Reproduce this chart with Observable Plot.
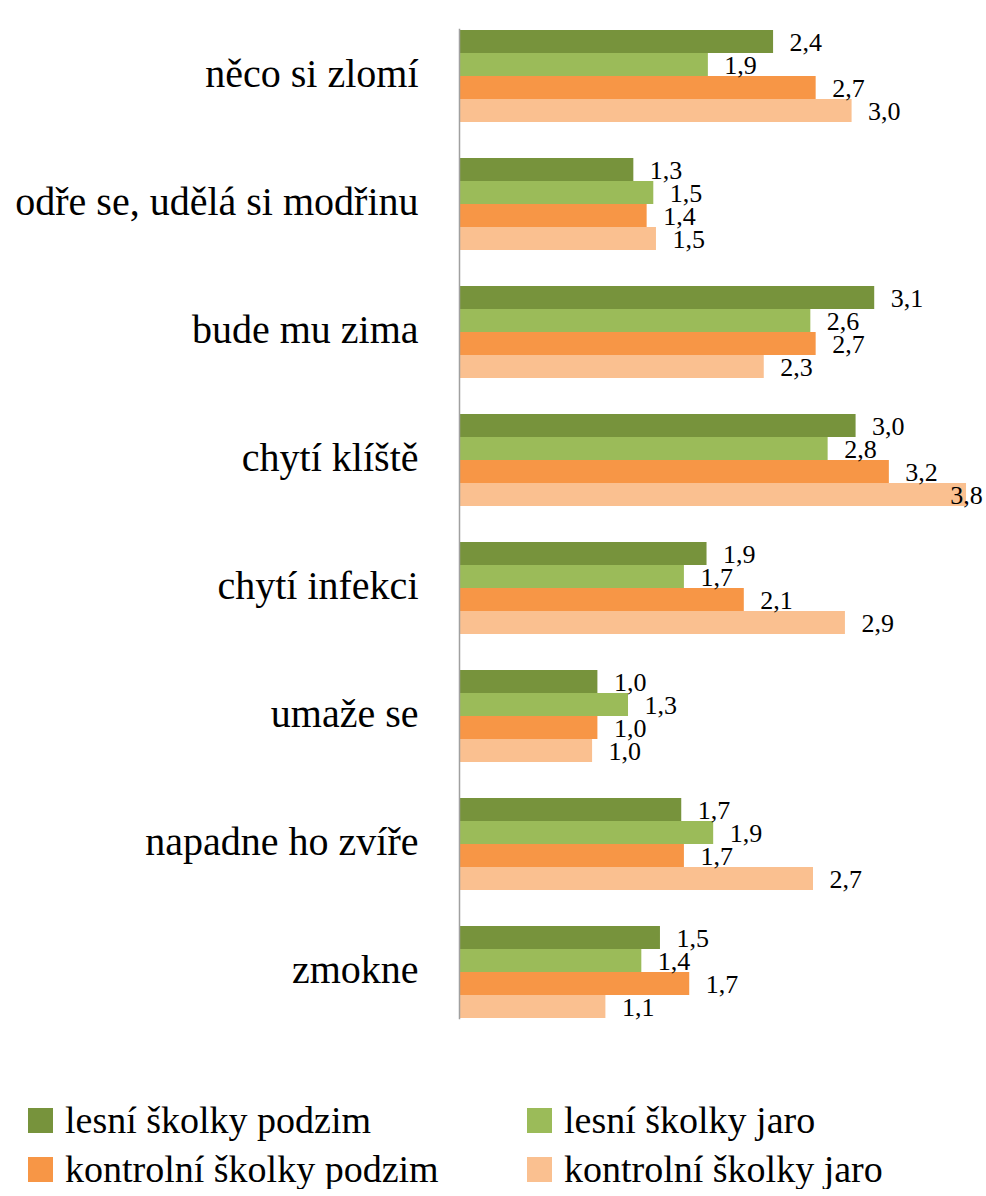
<!DOCTYPE html>
<html><head><meta charset="utf-8">
<script src="https://cdn.jsdelivr.net/npm/d3@7"></script>
<script src="https://cdn.jsdelivr.net/npm/@observablehq/plot@0.6"></script>
<style>
body{margin:0;background:#fff;font-family:"Liberation Serif","Times New Roman",Tinos,"DejaVu Serif",serif;color:#000;overflow:hidden}
#legend{display:grid;grid-template-columns:499px 459px;margin-left:28px;margin-top:40px;row-gap:9px}
.item{display:flex;align-items:center;font-size:38px;height:40px;white-space:nowrap}
.sw{width:25px;height:25px;margin-right:12px;flex:none}
svg text{font-family:"Liberation Serif","Times New Roman",Tinos,"DejaVu Serif",serif}
</style>
</head><body>
<div id="chart"></div>
<div id="legend"></div>
<script>
const categories = ["něco si zlomí","odře se, udělá si modřinu","bude mu zima","chytí klíště","chytí infekci","umaže se","napadne ho zvíře","zmokne"];
const series = ["lesní školky podzim","lesní školky jaro","kontrolní školky podzim","kontrolní školky jaro"];
const lesniPodzim     = [2.36,1.31,3.12,2.98,1.86,1.04,1.67,1.51];
const lesniJaro       = [1.87,1.46,2.64,2.77,1.69,1.27,1.91,1.37];
const kontrolniPodzim = [2.68,1.41,2.68,3.23,2.14,1.04,1.69,1.73];
const kontrolniJaro   = [2.95,1.48,2.29,3.81,2.90,1.00,2.66,1.10];
const colors = ["#77933C","#9BBB59","#F79646","#FAC090"];

const seriesValues = [lesniPodzim, lesniJaro, kontrolniPodzim, kontrolniJaro];
const data = categories.flatMap((c, i) => series.map((s, j) => ({category: c, series: s, value: seriesValues[j][i]})));
const fmt = d => d.value.toFixed(1).replace(".", ",");

const chart = Plot.plot({
  width: 986,
  height: 1060,
  marginTop: 10,
  marginBottom: 23,
  marginLeft: 459,
  marginRight: 0,
  style: {color: "#000", background: "#fff"},
  x: {domain: [0, 3.96], axis: null},
  y: {domain: series, padding: 0, axis: null},
  fy: {domain: categories, paddingInner: 0.273, paddingOuter: 0.148, label: null},
  color: {domain: series, range: colors},
  marks: [
    Plot.barX(data, {x: "value", y: "series", fy: "category", fill: "series"}),
    Plot.frame({anchor: "left", facet: "super", stroke: "#a0a0a0", strokeWidth: 1.5}),
    Plot.text(data, {filter: d => d.value < 3.5, x: "value", y: "series", fy: "category", text: fmt, textAnchor: "start", dx: 16, dy: 1, fontSize: 26, fill: "#000"}),
    Plot.text(data, {filter: d => d.value >= 3.5, x: "value", y: "series", fy: "category", text: fmt, textAnchor: "middle", dx: 0, dy: 1, fontSize: 26, fill: "#000"}),
    Plot.axisFy({anchor: "left", tickSize: 0, tickPadding: 41, fontSize: 40, label: null, fill: "#000", dy: -2})
  ]
});
document.getElementById("chart").append(chart);

const legend = document.getElementById("legend");
series.forEach((s, j) => {
  const it = document.createElement("div");
  it.className = "item";
  const sw = document.createElement("span");
  sw.className = "sw";
  sw.style.background = colors[j];
  it.append(sw, document.createTextNode(s));
  legend.append(it);
});
</script>
</body></html>
